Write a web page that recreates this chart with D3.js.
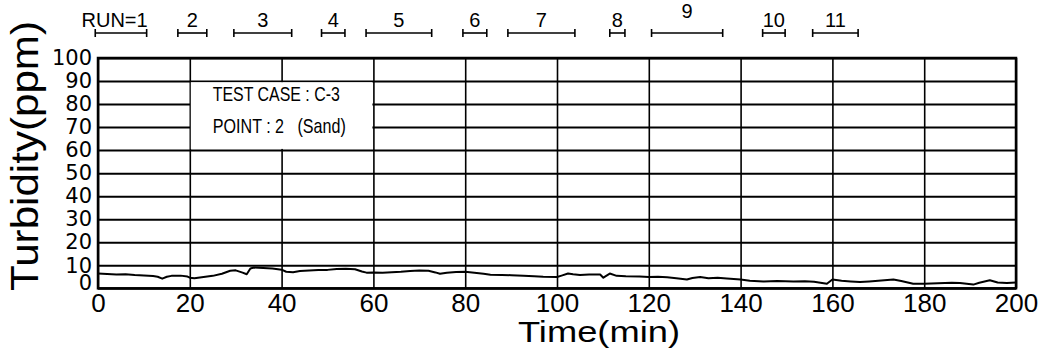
<!DOCTYPE html>
<html>
  <head>
    <meta charset="utf-8">
    <title>Turbidity - test case C-3, point 2</title>
    <script src="https://cdn.jsdelivr.net/npm/d3@7"></script>
    <style>
      body { margin: 0; background: #fff; }
      #chart { display: block; background: #fff; }
      .axis text { fill: #000; }
      .axis .domain { display: none; }
      #xAxisGroup text { font-family: "Liberation Sans", Arial, sans-serif; font-size: 26px; }
      #yAxisGroup text { font-family: "DejaVu Sans", sans-serif; font-size: 21px; }
      #xAxisGroup line { stroke: #000; stroke-width: 1.6px; }
      #yAxisGroup line { stroke: #000; stroke-width: 2px; }
      .title { font-family: "Liberation Sans", Arial, sans-serif; fill: #000; }
      .run { stroke: #000; stroke-width: 1.6px; }
      .runLabel { font-family: "Liberation Sans", Arial, sans-serif; font-size: 20px; fill: #000; }
      .legend { font-family: "Liberation Sans", Arial, sans-serif; font-size: 21px; fill: #000; }
      #plot { fill: none; stroke: #000; stroke-width: 2px; stroke-linejoin: round; }
    </style>
  </head>
  <body>
    <svg id="chart" width="1046" height="351">
      <g id="xAxisGroup" class="axis"></g>
      <g id="yAxisGroup" class="axis"></g>
      <g id="legendGroup"></g>
      <g id="runGroup"></g>
      <g id="chartGroup"></g>
    </svg>
    <script>
      // turbidity record (min, ppm)
      var times = [0, 2, 4, 6, 8, 10, 12, 13, 14, 15, 16, 18, 19.5, 20, 21, 23, 25, 27, 28.8, 30,
        31.5, 32.4, 33.2, 34, 36, 38, 40, 41, 42.5, 44, 46, 48, 50, 52, 54, 56, 57.5, 58.5, 60, 62,
        64, 66, 68, 70, 72, 73.5, 74.5, 76, 78, 80, 82, 84, 85.5, 88, 90, 92.7, 95, 97, 100, 101,
        102.4, 103.5, 105, 107, 109.4, 110.1, 111.5, 113, 115, 118, 120, 122, 124, 126, 128.3, 129.5, 131.2, 133, 135, 137,
        140, 142, 145, 148, 151.5, 154, 156, 158.8, 160, 162, 164, 166, 168, 170, 173.3, 175, 177.6, 180, 183, 186,
        187.8, 190.7, 192, 194.3, 196, 198, 200];
      var turbidity = [6.4, 6.2, 6.0, 6.1, 5.8, 5.6, 5.3, 5.0, 4.2, 5.0, 5.4, 5.5, 5.1, 4.6, 4.4, 4.9, 5.4, 6.3, 7.6, 7.8,
        6.8, 6.1, 8.6, 9.0, 8.8, 8.6, 8.1, 7.2, 7.0, 7.5, 7.7, 7.9, 8.0, 8.4, 8.5, 8.3, 7.3, 6.8, 6.9, 6.7,
        7.0, 7.2, 7.5, 7.7, 7.6, 6.9, 6.3, 6.8, 7.1, 7.2, 6.8, 6.3, 5.9, 5.8, 5.7, 5.4, 5.2, 5.0, 4.9, 5.5,
        6.4, 6.1, 5.8, 6.0, 6.0, 4.6, 6.4, 5.4, 5.2, 5.1, 4.9, 5.0, 4.8, 4.4, 3.8, 4.5, 4.9, 4.4, 4.6, 4.3,
        3.8, 3.3, 3.0, 3.2, 3.0, 3.1, 2.8, 2.0, 3.8, 3.3, 3.0, 2.7, 3.0, 3.3, 3.8, 3.2, 2.0, 2.0, 2.2, 2.4,
        2.3, 1.6, 2.4, 3.5, 2.5, 2.3, 2.5];
      // run periods (min)
      var runLabels = ["RUN=1", "2", "3", "4", "5", "6", "7", "8", "9", "10", "11"];
      var runStart = [-0.6, 17.4, 29.6, 48.7, 58.4, 79.5, 89.3, 111.5, 120.6, 144.8, 155.7];
      var runEnd = [10.6, 23.7, 42.2, 53.8, 72.7, 84.7, 103.9, 114.8, 136.1, 149.7, 165.6];
      var xTicks = [0, 20, 40, 60, 80, 100, 120, 140, 160, 180, 200];
      var yTicks = [0, 10, 20, 30, 40, 50, 60, 70, 80, 90, 100];
      var legendLines = ["TEST CASE : C-3", "POINT : 2   (Sand)"];

      var chart = d3.select("#chart");
      var width = 1046, height = 351;
      var margin = { top: 58, right: 30, bottom: 62.7, left: 98 };

      var x = d3.scaleLinear().domain([0, 200]).range([margin.left, width - margin.right]);
      var y = d3.scaleLinear().domain([0, 100]).range([height - margin.bottom, margin.top]);

      // axes double as the grid
      var xAxis = d3.axisBottom(x)
        .tickValues(xTicks)
        .tickSizeInner(margin.top + margin.bottom - height)
        .tickSizeOuter(0)
        .tickPadding(5);
      var yAxis = d3.axisLeft(y)
        .tickValues(yTicks)
        .tickSizeInner(margin.left + margin.right - width)
        .tickSizeOuter(0)
        .tickPadding(6);

      d3.select("#xAxisGroup")
        .attr("transform", "translate(0, " + (height - margin.bottom) + ")")
        .call(xAxis);
      d3.select("#yAxisGroup")
        .attr("transform", "translate(" + margin.left + ", 0)")
        .call(yAxis);
      // the zero label sits above the axis line in the original
      d3.select("#yAxisGroup").selectAll(".tick text")
        .filter(function(d) { return d === 0; })
        .attr("dy", "0.05em");

      // legend box blanks out the grid inside it
      var legend = d3.select("#legendGroup");
      legend.append("rect")
        .attr("x", x(20) + 1)
        .attr("y", y(90) + 1.2)
        .attr("width", x(60) - x(20) - 2)
        .attr("height", y(60) - y(90) - 2.4)
        .attr("fill", "#fff");
      legend.selectAll("text")
        .data(legendLines)
        .enter().append("text")
          .classed("legend", true)
          .attr("x", x(20) + 23)
          .attr("y", function(d, i) { return y(90) + 20 + i * 32; })
          .attr("textLength", function(d, i) { return i === 0 ? 127 : 133; })
          .attr("lengthAdjust", "spacingAndGlyphs")
          .style("white-space", "pre")
          .text(function(d) { return d; });

      // plot frame
      chart.append("rect")
        .attr("x", margin.left)
        .attr("y", margin.top)
        .attr("width", width - margin.left - margin.right)
        .attr("height", height - margin.top - margin.bottom)
        .attr("fill", "none")
        .attr("stroke", "#000")
        .attr("stroke-width", 2.5);

      // turbidity trace
      var line = d3.line()
        .x(function(d) { return x(d[0]); })
        .y(function(d) { return y(d[1]); });
      d3.select("#chartGroup").append("path")
        .attr("id", "plot")
        .attr("d", line(times.map(function(t, i) { return [t, turbidity[i]]; })));

      // run bars along the top
      var runY = 33;
      var runs = d3.select("#runGroup").selectAll("g")
        .data(runLabels)
        .enter().append("g");
      runs.append("line")
        .classed("run", true)
        .attr("x1", function(d, i) { return x(runStart[i]); })
        .attr("x2", function(d, i) { return x(runEnd[i]); })
        .attr("y1", runY).attr("y2", runY);
      runs.append("line")
        .classed("run", true)
        .attr("x1", function(d, i) { return x(runStart[i]); })
        .attr("x2", function(d, i) { return x(runStart[i]); })
        .attr("y1", runY - 4).attr("y2", runY + 4);
      runs.append("line")
        .classed("run", true)
        .attr("x1", function(d, i) { return x(runEnd[i]); })
        .attr("x2", function(d, i) { return x(runEnd[i]); })
        .attr("y1", runY - 4).attr("y2", runY + 4);
      runs.append("text")
        .classed("runLabel", true)
        .attr("text-anchor", function(d, i) { return i === 0 ? "end" : "middle"; })
        .attr("x", function(d, i) {
          return i === 0 ? x(runEnd[i]) + 1 : (x(runStart[i]) + x(runEnd[i])) / 2;
        })
        .attr("y", function(d) { return d === "9" ? 18 : 27; })
        .text(function(d) { return d; });

      // axis titles
      chart.append("text")
        .classed("title", true)
        .attr("transform", "translate(38, 156) rotate(-90)")
        .attr("text-anchor", "middle")
        .attr("font-size", "38px")
        .attr("textLength", 270)
        .attr("lengthAdjust", "spacingAndGlyphs")
        .text("Turbidity(ppm)");
      chart.append("text")
        .classed("title", true)
        .attr("x", 599)
        .attr("y", 342)
        .attr("text-anchor", "middle")
        .attr("font-size", "30px")
        .attr("textLength", 162)
        .attr("lengthAdjust", "spacingAndGlyphs")
        .text("Time(min)");
    </script>
  </body>
</html>
